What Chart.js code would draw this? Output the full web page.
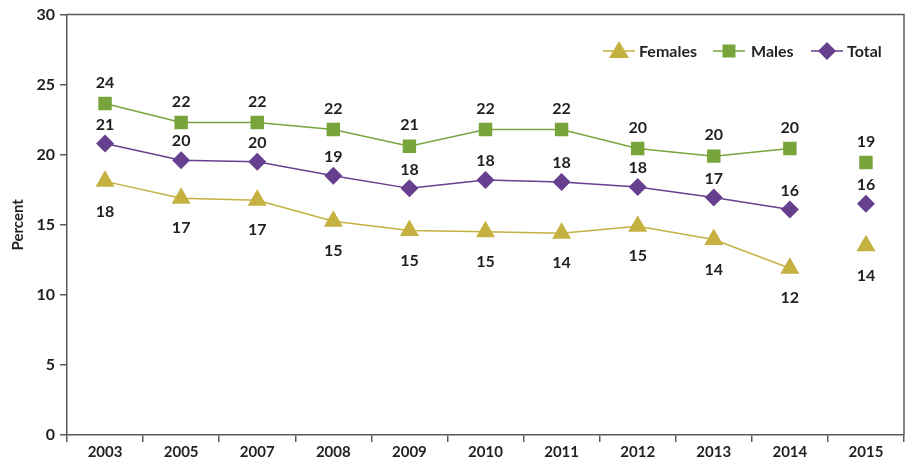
<!DOCTYPE html>
<html>
<head>
<meta charset="utf-8">
<script src="https://cdn.jsdelivr.net/npm/chart.js@4/dist/chart.umd.min.js"></script>
<style>
  html, body { margin: 0; padding: 0; background: #fff; }
  #wrap { width: 915px; height: 459px; }
</style>
</head>
<body>
<div id="wrap"><canvas id="chart" width="915" height="459"></canvas></div>
<script>
// Data
const years = ["2003", "2005", "2007", "2008", "2009", "2010", "2011", "2012", "2013", "2014", "2015"];
const females = [18.1, 16.9, 16.75, 15.25, 14.6, 14.5, 14.4, 14.9, 13.95, 11.9, 13.5];
const males = [23.65, 22.3, 22.3, 21.8, 20.6, 21.8, 21.8, 20.45, 19.9, 20.45, 19.45];
const total = [20.8, 19.6, 19.5, 18.5, 17.6, 18.2, 18.05, 17.7, 16.95, 16.1, 16.5];
const femaleLabels = ["18", "17", "17", "15", "15", "15", "14", "15", "14", "12", "14"];
const maleLabels = ["24", "22", "22", "22", "21", "22", "22", "20", "20", "20", "19"];
const totalLabels = ["21", "20", "20", "19", "18", "18", "18", "18", "17", "16", "16"];
const yTicks = [0, 5, 10, 15, 20, 25, 30];

const FONT = "Lato";
const TEXT = "#231f20";
const AXIS = "#595959";

// break the line before the last year
const noLastSegment = (ctx) => ctx.p1DataIndex === years.length - 1 ? "transparent" : undefined;

// value labels above/below the points
const valueLabels = {
  id: "valueLabels",
  afterDatasetsDraw(chart) {
    const c = chart.ctx;
    c.save();
    c.font = "bold 16px " + FONT;
    c.fillStyle = TEXT;
    c.textAlign = "center";
    c.textBaseline = "middle";
    chart.data.datasets.forEach((ds, i) => {
      const meta = chart.getDatasetMeta(i);
      meta.data.forEach((pt, j) => {
        c.fillText(ds.valueText[j], pt.x, pt.y + ds.labelOffset);
      });
    });
    c.restore();
  }
};

function drawMarker(c, style, x, y, color) {
  c.fillStyle = color;
  c.beginPath();
  if (style === "triangle") {
    c.moveTo(x, y - 10);
    c.lineTo(x + 10, y + 7);
    c.lineTo(x - 10, y + 7);
  } else if (style === "rect") {
    c.rect(x - 6.5, y - 6.5, 13, 13);
  } else {
    c.moveTo(x, y - 9);
    c.lineTo(x + 9, y);
    c.lineTo(x, y + 9);
    c.lineTo(x - 9, y);
  }
  c.closePath();
  c.fill();
}

// box border + legend inside the plot
const frameAndLegend = {
  id: "frameAndLegend",
  afterDraw(chart) {
    const c = chart.ctx;
    const a = chart.chartArea;
    c.save();
    c.strokeStyle = AXIS;
    c.lineWidth = 1.5;
    c.beginPath();
    c.moveTo(a.left, a.top);
    c.lineTo(a.right, a.top);
    c.lineTo(a.right, a.bottom);
    c.stroke();

    const items = [
      { x: 603, textX: 639, ds: 0 },
      { x: 713, textX: 751, ds: 1 },
      { x: 811, textX: 847, ds: 2 }
    ];
    const y = 51;
    c.font = "bold 16px " + FONT;
    c.textBaseline = "middle";
    c.textAlign = "left";
    items.forEach((it) => {
      const ds = chart.data.datasets[it.ds];
      c.strokeStyle = ds.borderColor;
      c.lineWidth = 1.5;
      c.beginPath();
      c.moveTo(it.x, y);
      c.lineTo(it.x + 32, y);
      c.stroke();
      drawMarker(c, ds.pointStyle, it.x + 16, y, ds.backgroundColor);
      c.fillStyle = TEXT;
      c.fillText(ds.label, it.textX, y + 1);
    });
    c.restore();
  }
};

function series(label, data, texts, color, style, radius, offset) {
  return {
    label: label,
    data: data,
    valueText: texts,
    labelOffset: offset,
    borderColor: color,
    backgroundColor: color,
    borderWidth: 1.5,
    pointStyle: style,
    pointRadius: radius,
    pointHoverRadius: radius,
    pointBorderWidth: 0,
    tension: 0,
    segment: { borderColor: noLastSegment }
  };
}

new Chart(document.getElementById("chart"), {
  type: "line",
  data: {
    labels: years,
    datasets: [
      series("Females", females, femaleLabels, "#c4b13f", "triangle", 11, 30),
      series("Males", males, maleLabels, "#77a43b", "rect", 9.5, -21),
      series("Total", total, totalLabels, "#673f8f", "rectRot", 9, -19)
    ]
  },
  options: {
    responsive: false,
    animation: false,
    layout: { padding: { top: 14, right: 3, left: 0, bottom: 0 } },
    plugins: {
      legend: { display: false },
      tooltip: { enabled: false }
    },
    scales: {
      x: {
        offset: true,
        grid: {
          offset: true,
          drawOnChartArea: false,
          drawTicks: true,
          tickLength: 7,
          color: AXIS,
          lineWidth: 1.5
        },
        border: { color: AXIS, width: 1.5 },
        ticks: {
          color: TEXT,
          font: { family: FONT, size: 15, weight: "bold" },
          padding: 1,
          maxRotation: 0
        },
        afterFit: (s) => { s.height = 24; }
      },
      y: {
        min: 0,
        max: 30,
        afterBuildTicks: (s) => { s.ticks = yTicks.map((v) => ({ value: v })); },
        grid: {
          drawOnChartArea: false,
          drawTicks: true,
          tickLength: 7,
          color: AXIS,
          lineWidth: 1.5
        },
        border: { color: AXIS, width: 1.5 },
        ticks: {
          color: TEXT,
          font: { family: FONT, size: 16, weight: "bold" },
          padding: 5
        },
        title: {
          display: true,
          text: "Percent",
          color: TEXT,
          font: { family: FONT, size: 15, weight: "bold" },
          padding: { top: 9, bottom: 0 }
        },
        afterFit: (s) => { s.width = 67; }
      }
    }
  },
  plugins: [valueLabels, frameAndLegend]
});
</script>
</body>
</html>
